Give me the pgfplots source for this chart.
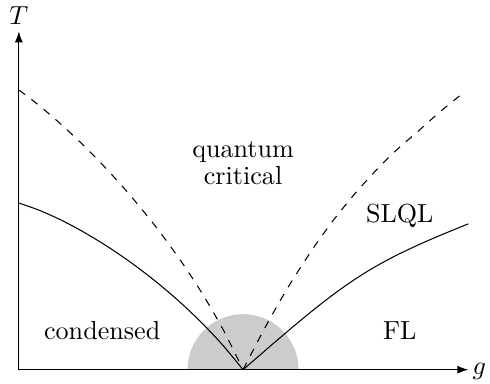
\documentclass[border=0pt]{standalone}
\usepackage{pgfplots}
\pgfplotsset{compat=1.18}
\usetikzlibrary{arrows.meta}

\begin{document}
\begin{tikzpicture}
\begin{axis}[
  x=0.38pt, y=0.38pt,
  xmin=0, xmax=453, ymin=0, ymax=341,
  axis lines=left,
  axis line style={thin, -{Latex[length=4.2pt,width=3.1pt]}},
  xtick=\empty, ytick=\empty,
  clip=false,
  axis on top,
  xlabel={$g$}, ylabel={$T$},
  every axis x label/.style={at={(rel axis cs:1,0)}, anchor=base west, inner sep=1.5pt, yshift=-1.9pt},
  every axis y label/.style={at={(rel axis cs:0,1)}, anchor=south, inner sep=2.5pt},
]

% quantum critical region around the critical point
\addplot[fill=black!20, draw=none, smooth] coordinates {
  (170,0) (170.85,9.72) (173.38,19.15) (177.50,28) (183.10,36.00)
  (190,42.90) (198,48.50) (206.85,52.62) (216.28,55.15) (226,56)
  (235.72,55.15) (245.15,52.62) (254,48.50) (262,42.90) (268.90,36.00)
  (274.50,28) (278.62,19.15) (281.15,9.72) (282,0)
};

% crossover lines (dashed)
\addplot[black, thin, dashed, smooth] coordinates {
  (0,282) (19.51,267.06) (41.07,248.69) (64.19,227.09) (88.33,202.42)
  (113,174.87) (137.67,144.59) (161.82,111.79) (184.93,76.65)
  (206.5,39.32) (226,0)
};
\addplot[black, thin, dashed, smooth] coordinates {
  (226,0) (249.45,44.87) (272.07,84.18) (294.07,118.58) (315.64,148.79)
  (337,175.43) (358.36,199.19) (379.94,220.76) (402.94,240.81)
  (424.55,259.99) (448,279)
};

% transition lines (solid)
\addplot[black, thin, smooth] coordinates {
  (0,168) (20.15,160.88) (41.94,151.15) (64.94,138.97) (88.77,124.53)
  (113,108) (137.23,89.55) (161.06,69.35) (184.06,47.58) (205.85,24.40)
  (226,0)
};
\addplot[black, thin, smooth] coordinates {
  (226,0) (254.6,24.78) (279.27,45.75) (300.99,63.48) (320.74,78.59)
  (339.5,91.65) (358.26,103.26) (378.01,114.01) (399.73,124.49)
  (424.4,135.29) (453,147)
};

% region labels
\node[align=center] at (axis cs:226,208) {quantum\\[-1.8pt]critical};
\node[anchor=base] at (axis cs:384,148) {SLQL};
\node[anchor=base] at (axis cs:84,30.3) {condensed};
\node[anchor=base] at (axis cs:384,30.3) {FL};

% picture frame
\path (axis cs:-19,-12) rectangle (axis cs:471,372);
\end{axis}
\end{tikzpicture}
\end{document}
